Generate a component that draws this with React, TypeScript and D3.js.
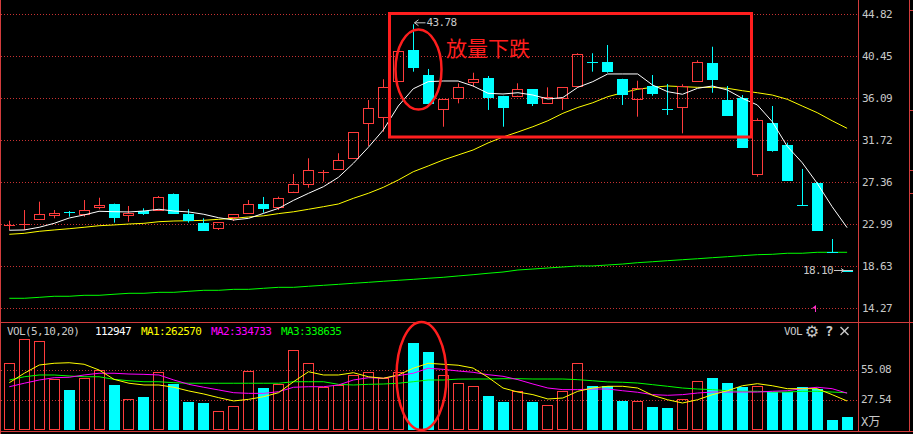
import React from 'react';
import * as d3 from 'd3';

// ---- price data (57 trading days) ----
const OPEN = [22.90, 23.00, 23.52, 23.93, 24.30, 24.04, 24.77, 25.11, 23.93, 24.38, 24.45, 26.15, 24.04, 23.13, 22.65, 23.79, 24.20, 25.11, 24.77, 26.39, 27.16, 28.38, 28.71, 29.86, 33.49, 34.12, 37.89, 41.11, 38.51, 34.95, 36.09, 37.82, 38.17, 36.33, 36.36, 37.03, 35.57, 36.09, 37.37, 39.88, 39.86, 38.10, 35.99, 37.37, 35.00, 35.22, 37.86, 39.79, 35.91, 36.15, 28.19, 33.56, 31.24, 24.99, 27.32, 20.13, 18.10];
const HIGH = [23.37, 24.48, 25.35, 24.48, 24.38, 25.52, 25.76, 25.15, 24.90, 24.66, 25.94, 26.20, 24.56, 23.62, 23.21, 24.07, 25.52, 25.84, 25.87, 28.23, 29.86, 28.64, 30.38, 32.56, 35.91, 38.07, 41.05, 43.78, 39.14, 36.02, 37.65, 38.75, 38.41, 36.35, 37.65, 37.05, 37.23, 37.23, 40.77, 40.77, 41.63, 38.12, 37.92, 38.51, 37.58, 37.55, 40.04, 41.45, 37.37, 36.43, 34.01, 35.29, 31.48, 28.75, 27.39, 21.47, 18.10];
const LOW = [22.41, 22.41, 23.50, 23.62, 23.79, 23.79, 24.56, 23.17, 23.27, 23.97, 24.45, 24.14, 23.17, 22.33, 22.41, 23.34, 24.10, 24.20, 24.48, 26.39, 26.80, 27.43, 28.71, 29.86, 31.14, 32.62, 37.89, 38.86, 35.57, 33.14, 35.57, 37.30, 34.88, 33.14, 36.36, 35.29, 35.57, 34.88, 37.37, 38.86, 38.75, 35.40, 34.18, 36.36, 34.36, 32.45, 37.86, 36.67, 34.25, 31.03, 27.94, 30.54, 27.60, 24.97, 22.41, 20.11, 18.10];
const CLOSE = [22.95, 23.05, 24.07, 24.20, 24.27, 24.45, 24.97, 23.79, 24.20, 24.22, 25.80, 24.20, 23.45, 22.41, 23.21, 24.04, 25.11, 24.72, 25.70, 27.19, 28.64, 28.42, 29.68, 32.56, 35.05, 37.23, 41.01, 39.38, 35.57, 36.02, 37.30, 38.10, 36.26, 35.22, 37.03, 35.57, 36.26, 37.23, 40.69, 39.84, 38.93, 36.54, 37.13, 36.67, 34.96, 37.40, 39.86, 38.10, 34.36, 31.06, 33.84, 30.72, 27.60, 24.97, 22.41, 20.11, 18.10];

// price moving averages
const MA_WHITE = [22.38, 22.41, 22.69, 23.10, 23.65, 23.97, 24.35, 24.31, 24.28, 24.38, 24.56, 24.38, 24.28, 24.04, 23.68, 23.45, 23.62, 24.14, 24.66, 25.49, 26.22, 26.91, 27.88, 29.34, 31.00, 32.80, 35.29, 37.08, 37.82, 37.89, 37.89, 37.37, 36.61, 36.54, 36.67, 36.43, 36.02, 36.17, 37.23, 37.82, 38.62, 38.62, 38.62, 37.47, 36.78, 36.51, 37.13, 37.37, 36.95, 36.09, 35.40, 33.66, 31.10, 29.40, 27.26, 24.83, 22.65];
const MA_YELLOW = [21.96, 22.06, 22.27, 22.41, 22.54, 22.69, 22.85, 22.93, 23.03, 23.10, 23.27, 23.34, 23.37, 23.41, 23.52, 23.62, 23.76, 23.88, 24.11, 24.30, 24.56, 24.83, 25.11, 25.70, 26.22, 26.84, 27.60, 28.46, 29.06, 29.68, 30.20, 30.72, 31.45, 32.07, 32.59, 33.14, 33.76, 34.53, 35.14, 35.63, 36.26, 36.67, 37.03, 37.23, 37.37, 37.30, 37.23, 37.23, 37.13, 36.88, 36.67, 36.43, 35.99, 35.29, 34.60, 33.76, 32.97];
const MA_GREEN = [15.31, 15.31, 15.41, 15.52, 15.52, 15.62, 15.62, 15.73, 15.83, 15.83, 15.93, 15.93, 16.04, 16.14, 16.14, 16.24, 16.24, 16.35, 16.45, 16.45, 16.56, 16.66, 16.76, 16.87, 16.97, 17.08, 17.18, 17.28, 17.39, 17.49, 17.63, 17.76, 17.91, 18.04, 18.25, 18.35, 18.46, 18.56, 18.67, 18.67, 18.77, 18.87, 19.01, 19.11, 19.22, 19.32, 19.42, 19.53, 19.63, 19.74, 19.84, 19.88, 19.99, 19.99, 20.09, 20.09, 20.09];

// volume (万)
const VOLUME = [61.0, 83.1, 81.2, 46.2, 36.4, 47.2, 54.8, 41.0, 27.8, 29.9, 52.7, 42.2, 25.3, 24.4, 17.0, 21.4, 53.9, 38.2, 41.9, 72.9, 61.0, 38.9, 41.0, 50.2, 52.7, 47.2, 52.7, 79.7, 71.4, 50.2, 42.6, 39.8, 31.1, 25.3, 35.2, 25.3, 22.3, 35.2, 61.0, 40.1, 40.1, 26.2, 26.0, 20.7, 19.8, 28.1, 44.4, 47.4, 42.8, 39.1, 40.1, 34.5, 34.5, 38.9, 37.6, 9.0, 11.29];
const VMA1 = [43.1, 51.8, 59.4, 61.0, 61.5, 60.1, 54.8, 46.2, 42.6, 41.0, 41.0, 38.9, 35.5, 32.7, 29.3, 26.3, 27.8, 30.2, 33.9, 44.0, 53.2, 50.2, 50.2, 52.3, 48.6, 47.2, 50.2, 56.4, 61.0, 60.1, 59.2, 56.6, 48.1, 38.2, 34.5, 32.1, 28.1, 29.0, 35.2, 38.2, 39.8, 39.8, 38.2, 31.5, 27.4, 24.4, 27.4, 32.1, 35.7, 40.3, 42.2, 40.3, 37.6, 37.6, 37.6, 32.1, 26.26];
const VMA2 = [39.4, 42.6, 45.6, 47.7, 48.1, 50.2, 51.8, 51.8, 51.1, 50.8, 50.2, 45.6, 41.6, 38.9, 36.4, 33.9, 33.3, 33.3, 34.8, 38.9, 39.4, 39.4, 41.0, 45.6, 47.7, 47.2, 49.6, 51.8, 56.4, 55.4, 53.9, 52.7, 50.5, 49.0, 45.9, 41.9, 38.2, 36.7, 36.7, 37.3, 37.3, 35.7, 34.3, 32.1, 31.5, 32.1, 33.6, 34.5, 34.5, 34.5, 34.5, 35.2, 35.7, 37.6, 38.9, 37.6, 33.47];
const VMA3 = [45.6, 48.6, 50.2, 50.2, 49.3, 48.6, 48.6, 46.2, 44.9, 44.0, 44.0, 43.1, 42.6, 42.6, 42.6, 42.6, 42.6, 42.6, 42.6, 44.0, 44.0, 44.0, 41.6, 41.0, 41.6, 41.9, 42.6, 44.0, 45.6, 45.6, 46.4, 46.5, 46.5, 46.8, 46.8, 46.5, 46.5, 46.5, 45.9, 44.9, 43.8, 43.5, 42.8, 41.3, 39.8, 38.2, 37.3, 36.7, 35.7, 35.2, 35.2, 34.5, 34.5, 35.2, 35.2, 34.5, 33.86];

const PRICE_TICKS = ['44.82', '40.45', '36.09', '31.72', '27.36', '22.99', '18.63', '14.27'];
const VOL_TICKS = ['55.08', '27.54'];
const VOL_TITLE = 'VOL(5,10,20)';
const VOL_LAST = '112947';
const VOL_MA_LABELS = ['MA1:262570', 'MA2:334733', 'MA3:338635'];
const HIGH_LABEL = '43.78';
const LOW_LABEL = '18.10';
const NOTE = '放量下跌';

const RED = '#ff3c3c';
const CYAN = '#00ffff';
const GRID = '#c83232';
const BORDER = '#d23c3c';
const ANNO = '#ff1e1e';
const TXT = '#c8c8c8';
const MONO = 'DejaVu Sans Mono, Liberation Mono, monospace';

export default function App() {
  const W = 913, H = 434;
  const n = CLOSE.length;
  const x = d3.scaleLinear().domain([0, n - 1]).range([9.3, 847.1]);
  const yP = d3.scaleLinear().domain([14.27, 44.82]).range([308.3, 14.3]);
  const yV = d3.scaleLinear().domain([0, 55.08]).range([429.5, 369.7]);
  const plotR = 858.5;

  const isUp = (i: number) =>
    CLOSE[i] > OPEN[i] || (CLOSE[i] === OPEN[i] && (i === 0 || CLOSE[i] >= CLOSE[i - 1]));

  const lineP = d3.line<number>().x((_, i) => x(i)).y((d) => yP(d));
  const lineV = d3.line<number>().x((_, i) => x(i)).y((d) => yV(d));

  const candles = CLOSE.map((c, i) => {
    const o = OPEN[i];
    const cx = x(i);
    const L = Math.round(cx - 5.5);
    const wx = L + 5.5;
    const up = isUp(i);
    const col = up ? RED : CYAN;
    const yO = yP(o), yC = yP(c), yH = yP(HIGH[i]), yL = yP(LOW[i]);
    const top = Math.min(yO, yC), bot = Math.max(yO, yC);
    if (bot - top < 1.5) {
      const yy = Math.round((top + bot) / 2) + 0.5;
      return (
        <g key={i}>
          <line x1={wx} x2={wx} y1={yH} y2={yL} stroke={col} strokeWidth={1} />
          <line x1={L} x2={L + 11} y1={yy} y2={yy} stroke={col} strokeWidth={1} />
        </g>
      );
    }
    const t = Math.round(top), b = Math.round(bot);
    if (up) {
      return (
        <g key={i}>
          <line x1={wx} x2={wx} y1={yH} y2={t + 0.5} stroke={col} strokeWidth={1} />
          <line x1={wx} x2={wx} y1={b + 0.5} y2={yL} stroke={col} strokeWidth={1} />
          <rect x={L + 0.5} y={t + 0.5} width={10} height={b - t} fill="none" stroke={col} strokeWidth={1} />
        </g>
      );
    }
    return (
      <g key={i}>
        <line x1={wx} x2={wx} y1={yH} y2={yL} stroke={col} strokeWidth={1} />
        <rect x={L} y={t} width={11} height={b - t + 1} fill={col} />
      </g>
    );
  });

  const volBars = VOLUME.map((v, i) => {
    const cx = x(i);
    const L = Math.round(cx - 5.5);
    const t = Math.round(yV(v));
    if (isUp(i)) {
      return <rect key={i} x={L + 0.5} y={t + 0.5} width={10} height={429 - t} fill="none" stroke={RED} strokeWidth={1} />;
    }
    return <rect key={i} x={L} y={t} width={11} height={430 - t} fill={CYAN} />;
  });

  // high / low markers
  const hiIdx = HIGH.indexOf(d3.max(HIGH) as number);
  const loIdx = LOW.lastIndexOf(d3.min(LOW) as number);
  const hx = Math.round(x(hiIdx) - 5.5) + 5.5;
  const hy = yP(+HIGH_LABEL) - 1.5;
  const lx = Math.round(x(loIdx) - 5.5);
  const ly = Math.round(yP(+LOW_LABEL)) - 0.5;

  return (
    <svg width={W} height={H} style={{ position: 'absolute', left: 0, top: 0, display: 'block' }}>
      <rect x={0} y={0} width={W} height={H} fill="#000" />

      {/* grid lines */}
      {PRICE_TICKS.map((t) => {
        const yy = Math.round(yP(+t)) + 0.5;
        return <line key={t} x1={1} x2={plotR} y1={yy} y2={yy} stroke={GRID} strokeWidth={1} strokeDasharray="1,2" />;
      })}
      {VOL_TICKS.map((t) => {
        const yy = Math.round(yV(+t)) + 0.5;
        return <line key={t} x1={1} x2={plotR} y1={yy} y2={yy} stroke={GRID} strokeWidth={1} strokeDasharray="1,2" />;
      })}

      {/* borders */}
      <line x1={0.5} x2={0.5} y1={0} y2={H} stroke={BORDER} />
      <line x1={plotR} x2={plotR} y1={0} y2={432} stroke={BORDER} />
      <line x1={909.5} x2={909.5} y1={0} y2={432} stroke={BORDER} />
      <line x1={0} x2={W} y1={322.5} y2={322.5} stroke={BORDER} />
      <line x1={0} x2={W} y1={431.5} y2={431.5} stroke={BORDER} />
      {[10, 110, 170, 193].map((yy) => (
        <line key={yy} x1={909} x2={913} y1={yy + 0.5} y2={yy + 0.5} stroke={BORDER} />
      ))}

      {/* price MAs */}
      <path d={lineP(MA_GREEN) || ''} fill="none" stroke="#00ff00" strokeWidth={1} />
      <path d={lineP(MA_YELLOW) || ''} fill="none" stroke="#ffff00" strokeWidth={1} />
      {candles}
      <path d={lineP(MA_WHITE) || ''} fill="none" stroke="#ffffff" strokeWidth={1} />

      {/* high marker */}
      <g stroke={TXT} strokeWidth={1} fill="none">
        <line x1={hx + 1} x2={hx + 12} y1={hy} y2={hy} />
        <polyline points={`${hx + 5},${hy - 3} ${hx + 1},${hy} ${hx + 5},${hy + 3}`} />
      </g>
      <text x={hx + 13} y={hy} dominantBaseline="central" fill={TXT} fontFamily={MONO} fontSize={11} letterSpacing={-0.6}>
        {HIGH_LABEL}
      </text>

      {/* low marker */}
      <text x={lx - 9} y={ly} textAnchor="end" dominantBaseline="central" fill={TXT} fontFamily={MONO} fontSize={11} letterSpacing={-0.6}>
        {LOW_LABEL}
      </text>
      <g stroke={TXT} strokeWidth={1} fill="none">
        <line x1={lx - 8} x2={lx + 11} y1={ly} y2={ly} />
        <polyline points={`${lx - 1},${ly - 2} ${lx + 2},${ly} ${lx - 1},${ly + 2}`} />
      </g>

      {/* pink flag */}
      <polygon points="816,305 816,312 815,312 815,308 811,309" fill="#ff30d0" />

      {/* price axis labels */}
      {PRICE_TICKS.map((t) => (
        <text key={t} x={862} y={yP(+t)} dominantBaseline="central" fill={TXT} fontFamily={MONO} fontSize={11} letterSpacing={-0.6}>
          {t}
        </text>
      ))}

      {/* volume */}
      {volBars}
      <path d={lineV(VMA3) || ''} fill="none" stroke="#00ff00" strokeWidth={1} />
      <path d={lineV(VMA2) || ''} fill="none" stroke="#ff00ff" strokeWidth={1} />
      <path d={lineV(VMA1) || ''} fill="none" stroke="#ffff00" strokeWidth={1} />

      {VOL_TICKS.map((t) => (
        <text key={t} x={861} y={yV(+t)} dominantBaseline="central" fill={TXT} fontFamily={MONO} fontSize={11} letterSpacing={-0.6}>
          {t}
        </text>
      ))}
      <text x={861} y={422} dominantBaseline="central" fill={TXT} fontFamily={`${MONO}, Noto Sans CJK SC`} fontSize={12}>
        X万
      </text>

      {/* volume header */}
      <g fontFamily={MONO} fontSize={11} letterSpacing={-0.6} dominantBaseline="central">
        <text x={7} y={331} fill={TXT}>{VOL_TITLE}</text>
        <text x={95} y={331} fill="#ffffff">{VOL_LAST}</text>
        <text x={141} y={331} fill="#ffff00">{VOL_MA_LABELS[0]}</text>
        <text x={211} y={331} fill="#ff00ff">{VOL_MA_LABELS[1]}</text>
        <text x={281} y={331} fill="#00ff00">{VOL_MA_LABELS[2]}</text>
        <text x={784} y={331} fill={TXT}>VOL</text>
        <text x={825} y={331} fill={TXT} fontSize={14} fontWeight="bold">?</text>
      </g>
      <text x={812} y={331} textAnchor="middle" dominantBaseline="central" fill={TXT} fontFamily="DejaVu Sans" fontSize={16}>
        ⚙
      </text>
      <g stroke={TXT} strokeWidth={1.5}>
        <line x1={840.5} x2={848.5} y1={327} y2={335} />
        <line x1={848.5} x2={840.5} y1={327} y2={335} />
      </g>

      {/* annotations */}
      <rect x={389.5} y={13.5} width={362} height={123.5} fill="none" stroke={ANNO} strokeWidth={3} />
      <ellipse cx={418.5} cy={69.5} rx={23} ry={40} fill="none" stroke={ANNO} strokeWidth={2.5} />
      <ellipse cx={421.5} cy={376} rx={25} ry={54} fill="none" stroke={ANNO} strokeWidth={2.5} />
      <text x={446} y={47} dominantBaseline="central" fill={ANNO} fontFamily="Noto Sans CJK SC" fontSize={21}>
        {NOTE}
      </text>
    </svg>
  );
}
